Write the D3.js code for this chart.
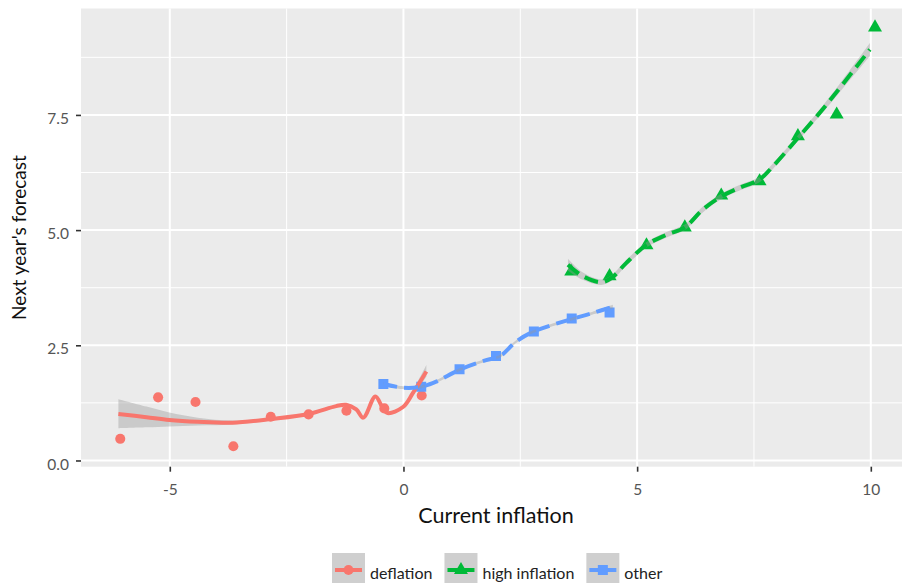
<!DOCTYPE html>
<html>
<head>
<meta charset="utf-8">
<script src="https://cdn.jsdelivr.net/npm/d3@7"></script>
<style>
  html, body { margin: 0; padding: 0; background: #ffffff; }
  svg { display: block; }
</style>
</head>
<body>
<svg id="chart" width="902" height="583"></svg>
<script>
// ---------------- DATA ----------------
const groups = ["deflation", "high inflation", "other"];
const groupColors = ["#F8766D", "#00BA38", "#619CFF"];

const xTicks = [-5, 0, 5, 10];
const xTickLabels = ["-5", "0", "5", "10"];
const yTicks = [0, 2.5, 5, 7.5];
const yTickLabels = ["0.0", "2.5", "5.0", "7.5"];

// observed points
const deflationX = [-6.06, -5.25, -4.45, -3.64, -2.84, -2.03, -1.22, -0.41, 0.39];
const deflationY = [0.47, 1.37, 1.27, 0.31, 0.95, 1.00, 1.08, 1.13, 1.41];

const highX = [3.59, 4.41, 5.20, 6.02, 6.80, 7.62, 8.44, 9.27, 10.09];
const highY = [4.10, 4.00, 4.67, 5.06, 5.75, 6.06, 7.04, 7.51, 9.40];

const otherX = [-0.43, 0.38, 1.20, 1.98, 2.79, 3.60, 4.41];
const otherY = [1.66, 1.60, 1.98, 2.27, 2.80, 3.08, 3.21];

// smoothed fits with confidence band
const deflationFitX = [-6.10, -5.50, -5.01, -4.40, -3.66, -2.83, -2.03, -1.44, -1.23, -1.01, -0.86, -0.60, -0.44, -0.34, -0.01, 0.20, 0.49];
const deflationFitY = [1.01, 0.94, 0.88, 0.84, 0.82, 0.90, 1.01, 1.18, 1.21, 1.11, 0.93, 1.39, 1.13, 1.03, 1.16, 1.46, 1.93];
const deflationLo   = [0.70, 0.72, 0.74, 0.76, 0.78, 0.87, 0.98, 1.15, 1.18, 1.08, 0.90, 1.36, 1.10, 1.00, 1.13, 1.41, 1.82];
const deflationHi   = [1.33, 1.17, 1.04, 0.93, 0.87, 0.93, 1.04, 1.21, 1.24, 1.14, 0.96, 1.42, 1.16, 1.06, 1.19, 1.52, 2.07];

const highFitX = [3.52, 3.84, 4.23, 4.45, 4.77, 5.20, 5.63, 6.02, 6.41, 6.80, 7.19, 7.62, 7.91, 8.44, 8.91, 9.34, 9.98];
const highFitY = [4.25, 4.00, 3.87, 3.96, 4.29, 4.68, 4.90, 5.06, 5.45, 5.73, 5.92, 6.10, 6.39, 7.00, 7.55, 8.09, 8.92];
const highLo   = [4.12, 3.92, 3.81, 3.90, 4.23, 4.62, 4.84, 5.00, 5.39, 5.67, 5.86, 6.04, 6.33, 6.94, 7.48, 8.00, 8.78];
const highHi   = [4.38, 4.08, 3.93, 4.02, 4.35, 4.74, 4.96, 5.12, 5.51, 5.79, 5.98, 6.16, 6.45, 7.06, 7.62, 8.18, 9.06];

const otherFitX = [-0.43, -0.01, 0.38, 0.70, 1.20, 1.77, 2.06, 2.41, 2.79, 3.60, 4.05, 4.48];
const otherFitY = [1.66, 1.58, 1.60, 1.71, 1.97, 2.18, 2.26, 2.58, 2.80, 3.07, 3.20, 3.34];
const otherLo   = [1.63, 1.55, 1.57, 1.68, 1.94, 2.15, 2.23, 2.55, 2.77, 3.04, 3.17, 3.30];
const otherHi   = [1.69, 1.61, 1.63, 1.74, 2.00, 2.21, 2.29, 2.61, 2.83, 3.10, 3.23, 3.38];

// ---------------- CHART ----------------
const svg = d3.select("#chart");
const FONT = "Lato, 'Open Sans', sans-serif";

const panel = { left: 81, right: 911, top: 8.5, bottom: 466.7 };
const x = d3.scaleLinear().domain([-6.9, 10.86]).range([panel.left, panel.right]);
const y = d3.scaleLinear().domain([-0.135, 9.81]).range([panel.bottom, panel.top]);

// panel background
svg.append("rect")
  .attr("x", panel.left).attr("y", panel.top)
  .attr("width", panel.right - panel.left).attr("height", panel.bottom - panel.top)
  .attr("fill", "#EBEBEB");

// gridlines
const xMinor = [-2.5, 2.5, 7.5];
const yMinor = [1.25, 3.75, 6.25, 8.75];
const grid = svg.append("g");
grid.selectAll(".xminor").data(xMinor).join("line")
  .attr("x1", d => x(d)).attr("x2", d => x(d))
  .attr("y1", panel.top).attr("y2", panel.bottom)
  .attr("stroke", "#ffffff").attr("stroke-width", 1);
grid.selectAll(".yminor").data(yMinor).join("line")
  .attr("x1", panel.left).attr("x2", panel.right)
  .attr("y1", d => y(d)).attr("y2", d => y(d))
  .attr("stroke", "#ffffff").attr("stroke-width", 1);
grid.selectAll(".xmajor").data(xTicks).join("line")
  .attr("x1", d => x(d)).attr("x2", d => x(d))
  .attr("y1", panel.top).attr("y2", panel.bottom)
  .attr("stroke", "#ffffff").attr("stroke-width", 2);
grid.selectAll(".ymajor").data(yTicks).join("line")
  .attr("x1", panel.left).attr("x2", panel.right)
  .attr("y1", d => y(d)).attr("y2", d => y(d))
  .attr("stroke", "#ffffff").attr("stroke-width", 2);

// axes
const xAxis = d3.axisBottom(x).tickValues(xTicks).tickFormat((d, i) => xTickLabels[i])
  .tickSize(5).tickPadding(12);
const gx = svg.append("g").attr("transform", `translate(0,${panel.bottom})`).call(xAxis);
gx.select(".domain").remove();
gx.selectAll(".tick line").attr("stroke", "#333333").attr("stroke-width", 1.6);
gx.selectAll(".tick text").attr("fill", "#555555").attr("font-family", FONT).attr("font-size", 15.5);

const yAxis = d3.axisLeft(y).tickValues(yTicks).tickFormat((d, i) => yTickLabels[i])
  .tickSize(5).tickPadding(7);
const gy = svg.append("g").attr("transform", `translate(${panel.left},0)`).call(yAxis);
gy.select(".domain").remove();
gy.selectAll(".tick line").attr("stroke", "#333333").attr("stroke-width", 1.6);
gy.selectAll(".tick text").attr("fill", "#555555").attr("font-family", FONT).attr("font-size", 15.5)
  .attr("dy", "0.55em");

// axis titles
svg.append("text")
  .attr("x", (panel.left + panel.right) / 2).attr("y", 523)
  .attr("text-anchor", "middle")
  .attr("font-family", FONT).attr("font-size", 21.5).attr("fill", "#111111")
  .text("Current inflation");
svg.append("text")
  .attr("transform", `translate(26,${(panel.top + panel.bottom) / 2}) rotate(-90)`)
  .attr("text-anchor", "middle")
  .attr("font-family", FONT).attr("font-size", 19).attr("fill", "#111111")
  .text("Next year's forecast");

// clip for plot layer
svg.append("clipPath").attr("id", "clip").append("rect")
  .attr("x", panel.left).attr("y", panel.top)
  .attr("width", panel.right - panel.left).attr("height", panel.bottom - panel.top);
const plot = svg.append("g").attr("clip-path", "url(#clip)");

const series = [
  { name: "deflation", color: groupColors[0], px: deflationX, py: deflationY,
    fx: deflationFitX, fy: deflationFitY, lo: deflationLo, hi: deflationHi, dash: null, shape: d3.symbolCircle, size: 80 },
  { name: "high inflation", color: groupColors[1], px: highX, py: highY,
    fx: highFitX, fy: highFitY, lo: highLo, hi: highHi, dash: "14,7", shape: d3.symbolTriangle, size: 85 },
  { name: "other", color: groupColors[2], px: otherX, py: otherY,
    fx: otherFitX, fy: otherFitY, lo: otherLo, hi: otherHi, dash: "14,7", shape: d3.symbolSquare, size: 100 }
];

// points
series.forEach(s => {
  const pts = s.px.map((v, i) => [v, s.py[i]]);
  plot.append("g").selectAll("path").data(pts).join("path")
    .attr("transform", d => `translate(${x(d[0])},${y(d[1])})`)
    .attr("d", d3.symbol().type(s.shape).size(s.size))
    .attr("fill", s.color);
});

// smooth ribbons + lines
series.forEach(s => {
  const rows = s.fx.map((v, i) => ({ x: v, y: s.fy[i], lo: s.lo[i], hi: s.hi[i] }));
  plot.append("path").datum(rows)
    .attr("d", d3.area().x(d => x(d.x)).y0(d => y(d.lo)).y1(d => y(d.hi)).curve(d3.curveCatmullRom))
    .attr("fill", "#999999").attr("fill-opacity", 0.4);
  plot.append("path").datum(rows)
    .attr("d", d3.line().x(d => x(d.x)).y(d => y(d.y)).curve(d3.curveCatmullRom))
    .attr("fill", "none").attr("stroke", s.color).attr("stroke-width", 4)
    .attr("stroke-dasharray", s.dash);
});

// legend
const legend = svg.append("g");
const keySize = 33;
const keyY = 553;
let cursor = 332;
series.forEach(s => {
  const g = legend.append("g").attr("transform", `translate(${cursor},${keyY})`);
  g.append("rect").attr("width", keySize).attr("height", keySize).attr("fill", "#CFCFCF");
  g.append("line").attr("x1", 3).attr("x2", keySize - 3)
    .attr("y1", 17).attr("y2", 17)
    .attr("stroke", s.color).attr("stroke-width", 4);
  g.append("path").attr("transform", `translate(${keySize / 2},17)`)
    .attr("d", d3.symbol().type(s.shape).size(s.size)).attr("fill", s.color);
  const t = g.append("text").attr("x", keySize + 5).attr("y", 26)
    .attr("font-family", FONT).attr("font-size", 16).attr("fill", "#222222")
    .text(s.name);
  cursor += keySize + 5 + t.node().getComputedTextLength() + 12;
});
</script>
</body>
</html>
